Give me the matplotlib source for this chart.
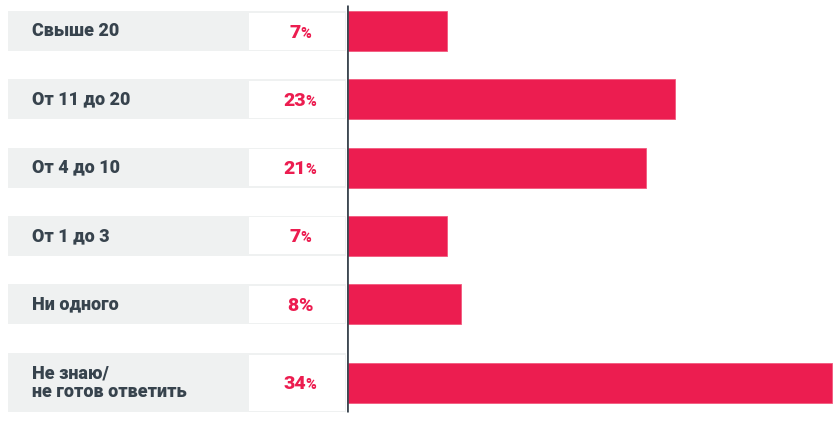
import matplotlib
matplotlib.use("Agg")
from matplotlib import pyplot as plt
from matplotlib.patches import Rectangle

categories = ["Свыше 20", "От 11 до 20", "От 4 до 10", "От 1 до 3", "Ни одного",
              "Не знаю/\nне готов ответить"]
values = [7, 23, 21, 7, 8, 34]
small_pct = [True, True, True, True, False, True]   # the % sign is smaller in most cells

# layout (pixels of an 840x422 picture)
W, H = 840, 422
rows = [0, 1, 2, 3, 4, 5.15]
row_px, top_px = 68.3, 31.0
px_per_pct = 14.25
axis_x = 347

plt.rcParams['font.family'] = ['Roboto', 'DejaVu Sans']
red = '#ec1d50'
slate = '#37434d'
band = '#eff1f1'

fig = plt.figure(figsize=(W / 100, H / 100), dpi=100)
ylim = ((H - top_px) / row_px, -top_px / row_px)

lx = fig.add_axes([0, 0, axis_x / W, 1])
lx.set_xlim(0, axis_x)
lx.set_ylim(*ylim)
lx.axis('off')

ax = fig.add_axes([axis_x / W, 0, 1 - axis_x / W, 1])
ax.set_xlim(0, (W - axis_x) / px_per_pct)
ax.set_ylim(*ylim)
ax.axis('off')

bar_h = 40 / row_px
ax.barh(rows, values, height=bar_h, color=red, edgecolor='#f25a7e', linewidth=0.6)
ax.vlines(0, -26 / row_px, 381 / row_px, color='#3e4852', lw=2.0, zorder=5)

for i, (y, cat, v) in enumerate(zip(rows, categories, values)):
    h = bar_h if '\n' not in cat else 59 / row_px
    lx.add_patch(Rectangle((8, y - h / 2), axis_x - 1 - 8, h, color=band, lw=0))
    lx.add_patch(Rectangle((249, y - h / 2 + 1.5 / row_px), 96, h - 3 / row_px,
                           color='white', lw=0))
    lx.text(32, y, cat, ha='left', va='center', fontsize=13, fontweight='black',
            color=slate, linespacing=1.1)

# percent cells: number + (smaller) % sign, centred as a pair
fig.canvas.draw()
r = fig.canvas.get_renderer()
for y, v, sm in zip(rows, values, small_pct):
    t1 = lx.text(0, y, str(v), ha='left', va='baseline', fontsize=14, fontweight='black',
                 color=red)
    t2 = lx.text(0, y, '%', ha='left', va='baseline', fontsize=10.5 if sm else 14,
                 fontweight='black', color=red)
    w1 = t1.get_window_extent(r).width - 0.5
    w2 = t2.get_window_extent(r).width
    x0 = 300 - (w1 + w2) / 2
    t1.set_x(x0)
    t1.set_y(y + 6.6 / row_px)
    t2.set_x(x0 + w1)
    t2.set_y(y + 6.6 / row_px)

fig.savefig('out.png', dpi=100, facecolor='white')
